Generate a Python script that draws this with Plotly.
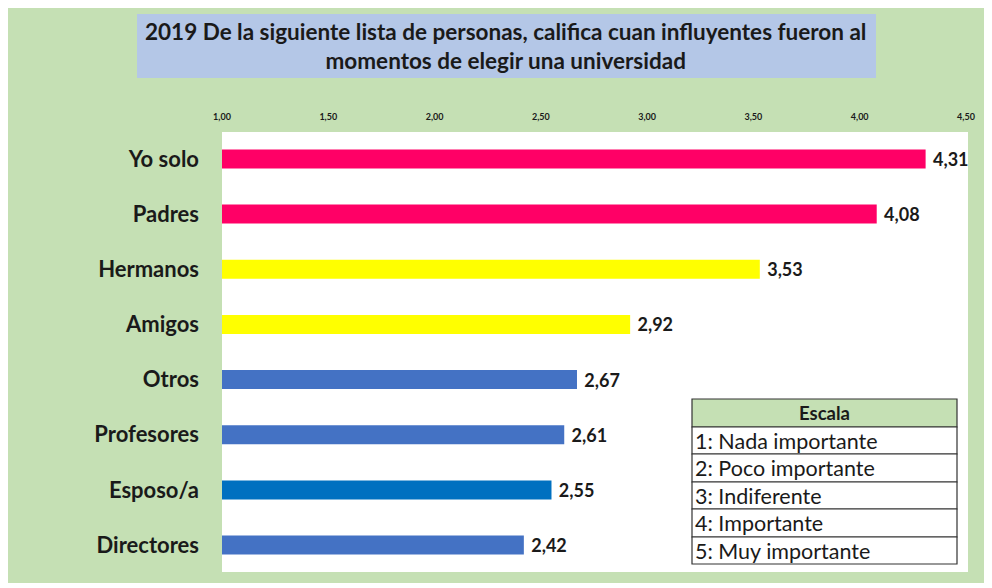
import plotly.graph_objects as go

categories = ["Yo solo", "Padres", "Hermanos", "Amigos", "Otros", "Profesores", "Esposo/a", "Directores"]
values = [4.31, 4.08, 3.53, 2.92, 2.67, 2.61, 2.55, 2.42]
bar_colors = ["#FF0066", "#FF0066", "#FFFF00", "#FFFF00", "#4472C4", "#4472C4", "#0070C0", "#4472C4"]
tick_vals = [1.0, 1.5, 2.0, 2.5, 3.0, 3.5, 4.0, 4.5]
title_lines = ["2019 De la siguiente lista de personas, califica cuan influyentes fueron al",
               "momentos de elegir una universidad"]
scale_header = "Escala"
scale_rows = ["1: Nada importante", "2: Poco importante", "3: Indiferente", "4: Importante", "5: Muy importante"]

OFF = 8  # page body margin
W, H = 992 - OFF, 588 - OFF
# plot area in screen pixels
SL, SR, ST, SB = 222, 966, 133, 571
L, R, T, B = SL - OFF, SR - OFF, ST - OFF, SB - OFF

def px(x):
    return (x - OFF - L) / (R - L)

def py(y):
    return (B - (y - OFF)) / (B - T)

FONT = "Lato"
DARK = "#1a1a1a"

fig = go.Figure(go.Bar(
    x=values, y=categories, orientation="h",
    marker=dict(color=bar_colors, line=dict(width=0)),
    width=0.345,
    text=values, texttemplate="\u00a0%{x:.2f}", textposition="outside",
    constraintext="none",
    textfont=dict(family=FONT, size=18, color=DARK, weight="bold"),
    cliponaxis=False,
))

shapes = []
shapes.append(dict(type="rect", xref="paper", yref="paper", layer="below",
                   x0=px(7), x1=px(985), y0=py(583), y1=py(5),
                   fillcolor="#C5E0B4", line=dict(width=0)))
shapes.append(dict(type="rect", xref="paper", yref="paper", layer="below",
                   x0=px(SL), x1=px(968), y0=py(572), y1=py(132),
                   fillcolor="white", line=dict(width=0)))
shapes.append(dict(type="rect", xref="paper", yref="paper", layer="below",
                   x0=px(137), x1=px(876), y0=py(78), y1=py(14),
                   fillcolor="#B4C7E7", line=dict(width=0)))

annotations = []
annotations.append(dict(xref="paper", yref="paper", x=px(505), y=py(46),
                        text="<b>" + title_lines[0] + "<br>" + title_lines[1] + "</b>",
                        showarrow=False, xanchor="center", yanchor="middle", align="center",
                        font=dict(family=FONT, size=22.5, color=DARK)))

tx0, tx1 = 692, 957
row_edges = [399, 427, 454, 482, 509, 537, 564]
shapes.append(dict(type="rect", xref="paper", yref="paper",
                   x0=px(tx0), x1=px(tx1), y0=py(row_edges[1]), y1=py(row_edges[0]),
                   fillcolor="#C5E0B4", line=dict(color="#333333", width=1.2)))
for i in range(1, len(row_edges) - 1):
    shapes.append(dict(type="rect", xref="paper", yref="paper",
                       x0=px(tx0), x1=px(tx1), y0=py(row_edges[i + 1]), y1=py(row_edges[i]),
                       fillcolor="white", line=dict(color="#333333", width=1.2)))
annotations.append(dict(xref="paper", yref="paper", x=px((tx0 + tx1) / 2),
                        y=py((row_edges[0] + row_edges[1]) / 2),
                        text="<b>" + scale_header + "</b>", showarrow=False,
                        xanchor="center", yanchor="middle",
                        font=dict(family=FONT, size=18.5, color=DARK)))
for i, label in enumerate(scale_rows):
    annotations.append(dict(xref="paper", yref="paper", x=px(tx0 + 1),
                            y=py((row_edges[i + 1] + row_edges[i + 2]) / 2),
                            text=label, showarrow=False, xanchor="left", yanchor="middle",
                            font=dict(family=FONT, size=21.5, color=DARK)))

fig.update_layout(
    width=W, height=H,
    margin=dict(l=L, r=W - R, t=T, b=H - B, pad=0),
    paper_bgcolor="white", plot_bgcolor="rgba(0,0,0,0)",
    separators=",.",
    showlegend=False,
    shapes=shapes, annotations=annotations,
)
fig.update_xaxes(side="top", range=[1, 4.5], tickvals=tick_vals, tickformat=".2f",
                 showgrid=False, zeroline=False, showline=False, ticks="",
                 ticklabelstandoff=10,
                 tickfont=dict(family=FONT, size=9, color=DARK, weight="bold"))
fig.update_yaxes(categoryorder="array", categoryarray=categories[::-1],
                 showgrid=False, zeroline=False, showline=False, ticks="",
                 ticklabelstandoff=22, range=[-0.47, 7.47],
                 tickfont=dict(family=FONT, size=22, color=DARK, weight="bold"))

fig.write_html("out.html")
